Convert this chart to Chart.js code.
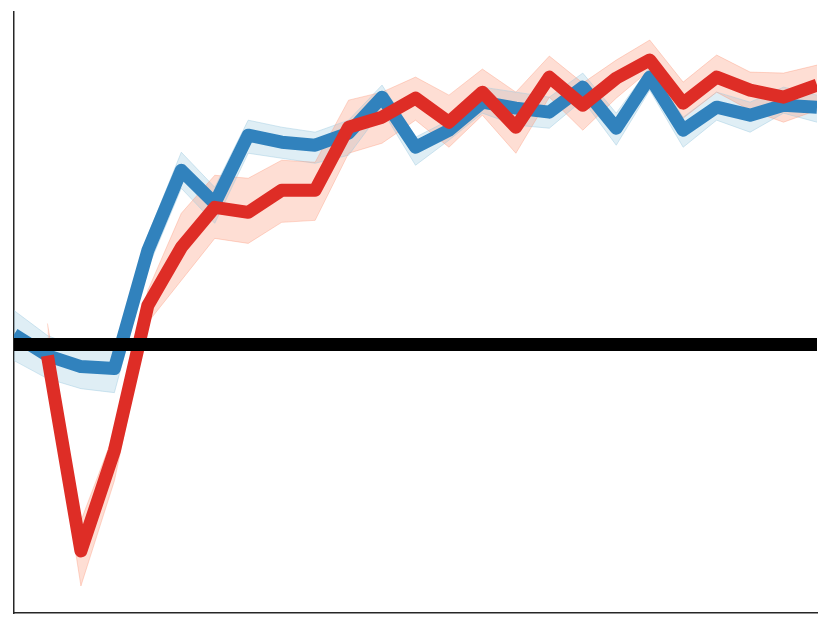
<!DOCTYPE html>
<html>
<head>
<meta charset="utf-8">
<script src="https://cdn.jsdelivr.net/npm/chart.js@4.4.1/dist/chart.umd.min.js"></script>
<style>
  html, body { margin: 0; padding: 0; background: #fff; }
  canvas { display: block; }
</style>
</head>
<body>
<canvas id="chart" width="830" height="625"></canvas>
<script>
// x positions (time steps)
const steps = [0, 1, 2, 3, 4, 5, 6, 7, 8, 9, 10, 11, 12, 13, 14, 15, 16, 17, 18, 19, 20, 21, 22, 23, 24];

// blue series: mean and band
const blueMean  = [0.1, -0.11, -0.22, -0.24, 0.94, 1.74, 1.41, 2.09, 2.02, 1.99, 2.11, 2.47, 1.97, 2.14, 2.42, 2.36, 2.32, 2.57, 2.16, 2.67, 2.14, 2.37, 2.29, 2.39, 2.37];
const blueUpper = [0.34, 0.09, -0.04, -0.06, 1.09, 1.92, 1.57, 2.24, 2.17, 2.12, 2.24, 2.59, 2.07, 2.24, 2.57, 2.52, 2.47, 2.71, 2.31, 2.77, 2.27, 2.52, 2.42, 2.57, 2.49];
const blueLower = [-0.16, -0.34, -0.44, -0.48, 0.76, 1.56, 1.21, 1.91, 1.86, 1.81, 1.89, 2.34, 1.79, 2.04, 2.31, 2.19, 2.16, 2.44, 1.99, 2.54, 1.97, 2.24, 2.12, 2.31, 2.22];

// red series: mean and band (no value at the first step)
const redMean  = [null, -0.11, -2.06, -1.06, 0.39, 0.97, 1.37, 1.32, 1.54, 1.54, 2.17, 2.27, 2.46, 2.22, 2.52, 2.17, 2.67, 2.39, 2.66, 2.84, 2.41, 2.67, 2.54, 2.47, 2.59];
const redUpper = [null, 0.21, -1.76, -0.88, 0.54, 1.31, 1.69, 1.66, 1.84, 1.82, 2.44, 2.52, 2.67, 2.49, 2.75, 2.52, 2.88, 2.61, 2.84, 3.04, 2.62, 2.89, 2.72, 2.71, 2.79];
const redLower = [null, -0.28, -2.41, -1.36, 0.22, 0.64, 1.06, 1.01, 1.22, 1.24, 1.91, 2.01, 2.24, 1.97, 2.29, 1.91, 2.47, 2.14, 2.46, 2.74, 2.26, 2.52, 2.34, 2.22, 2.34];

// reference line
const baseline = steps.map(() => 0);

const yMin = -2.68;
const yMax = 3.32;

const BLUE = '#3182bd';
const RED = '#de2d26';

const lineStyle = {
    pointRadius: 0,
    borderJoinStyle: 'round',
    borderCapStyle: 'butt',
    tension: 0,
    clip: 0,
    fill: false
};

const ctx = document.getElementById('chart').getContext('2d');

new Chart(ctx, {
    type: 'line',
    data: {
        labels: steps,
        datasets: [
            { ...lineStyle, data: baseline, borderColor: '#000', borderWidth: 13 },
            { ...lineStyle, data: redMean, borderColor: RED, borderWidth: 13 },
            { ...lineStyle, data: blueMean, borderColor: BLUE, borderWidth: 13 },
            { ...lineStyle, data: redUpper, borderColor: 'rgba(252,146,114,0.35)', borderWidth: 1,
              fill: '+1', backgroundColor: 'rgba(252,146,114,0.3)' },
            { ...lineStyle, data: redLower, borderColor: 'rgba(252,146,114,0.35)', borderWidth: 1 },
            { ...lineStyle, data: blueUpper, borderColor: 'rgba(158,202,225,0.45)', borderWidth: 1,
              fill: '+1', backgroundColor: 'rgba(158,202,225,0.33)' },
            { ...lineStyle, data: blueLower, borderColor: 'rgba(158,202,225,0.45)', borderWidth: 1 }
        ]
    },
    options: {
        responsive: false,
        animation: false,
        layout: { padding: { left: 6, top: 12, right: 13, bottom: 4 } },
        plugins: {
            legend: { display: false },
            tooltip: { enabled: false },
            filler: { drawTime: 'beforeDatasetsDraw' }
        },
        scales: {
            x: {
                type: 'category',
                offset: false,
                z: 1,
                grid: { display: false },
                border: { display: true, color: '#262626', width: 1.5 },
                ticks: { display: false }
            },
            y: {
                min: yMin,
                max: yMax,
                z: 1,
                grid: { display: false },
                border: { display: true, color: '#262626', width: 1.5 },
                ticks: { display: false }
            }
        }
    }
});
</script>
</body>
</html>
